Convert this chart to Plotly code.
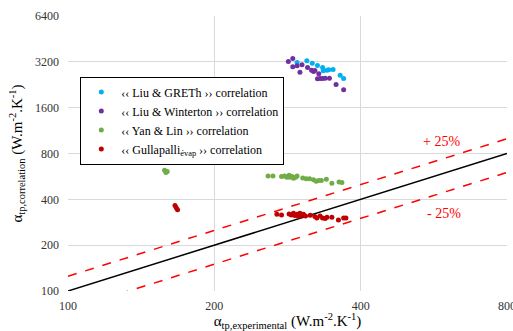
import plotly.graph_objects as go

# ---- data ----
greth_x = [296, 310, 318, 326, 334, 335, 341, 344, 351, 363, 369]
greth_y = [3167, 3250, 3138, 3025, 2936, 2792, 2822, 2834, 2848, 2617, 2485]

winterton_x = [284, 290, 290, 296, 300, 303, 311, 317, 320, 322, 328, 326, 330, 334, 338, 345, 356, 369]
winterton_y = [3215, 3364, 2966, 3011, 2738, 3057, 2936, 2822, 2763, 2805, 2669, 2474, 2485, 2485, 2500, 2500, 2269, 2095]

yanlin_x = [158, 159, 160, 258, 264, 275, 279, 282, 285, 286, 289, 291, 294, 296, 304, 309, 314, 320, 324, 328, 332, 340, 349, 361, 366]
yanlin_y = [620, 600, 610, 570, 570, 564, 570, 559, 576, 559, 564, 551, 559, 570, 553, 547, 547, 537, 526, 531, 531, 542, 511, 520, 515]

gulla_x = [166, 167, 168, 269, 275, 285, 288, 291, 293, 296, 298, 300, 303, 305, 308, 315, 322, 325, 330, 334, 338, 341, 349, 360, 369, 373]
gulla_y = [365, 352, 342, 319, 316, 321, 316, 324, 313, 319, 308, 324, 315, 319, 311, 315, 308, 302, 311, 302, 299, 305, 305, 293, 302, 302]

parity_x = [100, 800]
parity_factors = [1.0, 1.25, 0.75]

x_ticks = [100, 200, 400, 800]
y_ticks = [100, 200, 400, 800, 1600, 3200, 6400]

series = [
    ("‹‹ Liu &amp; GRETh ›› correlation", greth_x, greth_y, "#00B0F0"),
    ("‹‹ Liu &amp; Winterton ›› correlation", winterton_x, winterton_y, "#7030A0"),
    ("‹‹ Yan &amp; Lin ›› correlation", yanlin_x, yanlin_y, "#70AD47"),
    ("‹‹ Gullapalli<sub>évap</sub> ›› correlation", gulla_x, gulla_y, "#C00000"),
]

fig = go.Figure()

# parity lines
for f in parity_factors:
    fig.add_trace(go.Scatter(
        x=parity_x, y=[v * f for v in parity_x], mode="lines",
        line=dict(color="black" if f == 1.0 else "#FF0000", width=1.5,
                  dash="solid" if f == 1.0 else "dash"),
        showlegend=False, hoverinfo="skip"))

for name, xs, ys, col in series:
    fig.add_trace(go.Scatter(
        x=xs, y=ys, mode="markers", name=name,
        marker=dict(color=col, size=5, line=dict(width=0))))

font_family = "Times New Roman"

fig.add_annotation(x=0.851, y=0.545, xref="paper", yref="paper",
                   text="+ 25%", showarrow=False, xanchor="center", yanchor="middle",
                   font=dict(family=font_family, size=14, color="#FF0000"))
fig.add_annotation(x=0.857, y=0.283, xref="paper", yref="paper",
                   text="- 25%", showarrow=False, xanchor="center", yanchor="middle",
                   font=dict(family=font_family, size=14, color="#FF0000"))

fig.update_layout(
    width=513, height=331,
    margin=dict(l=68, r=6, t=16, b=40),
    paper_bgcolor="white", plot_bgcolor="white",
    font=dict(family=font_family, size=12, color="#000000"),
    legend=dict(x=0.028, y=0.78, xanchor="left", yanchor="top",
                bordercolor="black", borderwidth=1, bgcolor="white",
                font=dict(family=font_family, size=12),
                tracegroupgap=0, itemwidth=30),
    xaxis=dict(type="log", range=[2, 2.90311], tickvals=x_ticks,
               ticktext=[str(v) for v in x_ticks], ticklabeloverflow="allow",
               automargin=False,
               showgrid=True, gridcolor="#D9D9D9", gridwidth=1,
               showline=False, zeroline=False, ticks="", ticklabelstandoff=6,
               tickfont=dict(family=font_family, size=12, color="#333333"),
               title=dict(text="α<sub>tp,experimental</sub> (W.m<sup>-2</sup>.K<sup>-1</sup>)",
                          font=dict(family=font_family, size=15), standoff=5)),
    yaxis=dict(type="log", range=[2, 3.80619], tickvals=y_ticks,
               ticktext=[str(v) for v in y_ticks], ticklabeloverflow="allow",
               automargin=False,
               showgrid=True, gridcolor="#D9D9D9", gridwidth=1,
               showline=False, zeroline=False, ticks="", ticklabelstandoff=8,
               tickfont=dict(family=font_family, size=12, color="#333333"),
               title=dict(text="α<sub>tp,correlation</sub> (W.m<sup>-2</sup>.K<sup>-1</sup>)",
                          font=dict(family=font_family, size=15), standoff=8)),
)

fig.write_html("out.html")
